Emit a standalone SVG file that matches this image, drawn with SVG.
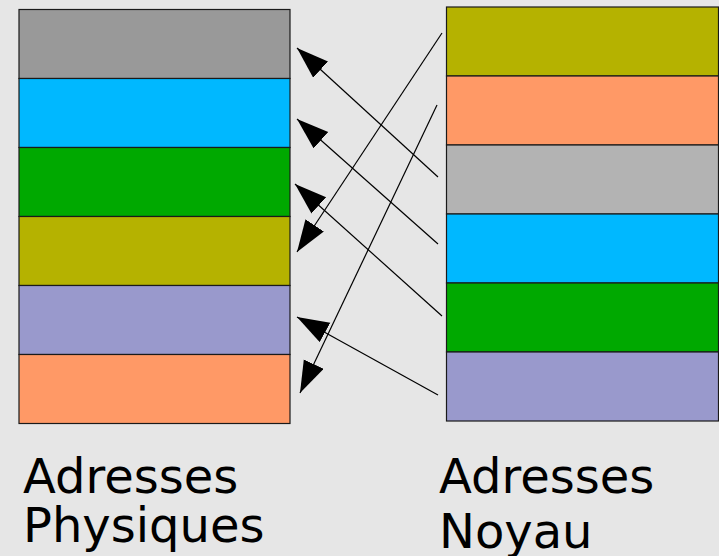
<svg xmlns="http://www.w3.org/2000/svg" width="719" height="556" viewBox="0 0 719 556">
  <style>
    .cell { stroke: #1a1a1a; stroke-width: 1.2; }
    .link { stroke: #000; stroke-width: 1.2; fill: none; marker-end: url(#head); }
    .label { font-family: "DejaVu Sans", sans-serif; font-size: 48px; fill: #000; }
  </style>
  <defs>
    <marker id="head" markerUnits="userSpaceOnUse" markerWidth="34" markerHeight="24" refX="32" refY="11" orient="auto">
      <path d="M0,0 L32,11 L0,22 Z" fill="#000"/>
    </marker>
  </defs>
  <rect width="719" height="556" fill="#e6e6e6"/>

  <g id="physique">
    <rect class="cell" x="19" y="9.5" width="271" height="69" fill="#999999"/>
    <rect class="cell" x="19" y="78.5" width="271" height="69" fill="#00b8ff"/>
    <rect class="cell" x="19" y="147.5" width="271" height="69" fill="#00a900"/>
    <rect class="cell" x="19" y="216.5" width="271" height="69" fill="#b5b200"/>
    <rect class="cell" x="19" y="285.5" width="271" height="69" fill="#9999cc"/>
    <rect class="cell" x="19" y="354.5" width="271" height="69" fill="#ff9966"/>
  </g>

  <g id="noyau">
    <rect class="cell" x="446.5" y="7" width="272" height="69" fill="#b5b200"/>
    <rect class="cell" x="446.5" y="76" width="272" height="69" fill="#ff9966"/>
    <rect class="cell" x="446.5" y="145" width="272" height="69" fill="#b3b3b3"/>
    <rect class="cell" x="446.5" y="214" width="272" height="69" fill="#00b8ff"/>
    <rect class="cell" x="446.5" y="283" width="272" height="69" fill="#00a900"/>
    <rect class="cell" x="446.5" y="352" width="272" height="69" fill="#9999cc"/>
  </g>

  <g id="connectors">
    <line class="link" x1="438" y1="177" x2="297" y2="48"/>
    <line class="link" x1="438" y1="244" x2="297" y2="119"/>
    <line class="link" x1="442" y1="316" x2="295" y2="184"/>
    <line class="link" x1="438" y1="395" x2="297" y2="317"/>
    <line class="link" x1="442" y1="33" x2="297" y2="252"/>
    <line class="link" x1="437" y1="105" x2="300" y2="393"/>
  </g>

  <g id="legende-physique">
    <text class="label" x="23" y="493">Adresses</text>
    <text class="label" x="23" y="542">Physiques</text>
  </g>
  <g id="legende-noyau">
    <text class="label" x="439" y="493">Adresses</text>
    <text class="label" x="439" y="548">Noyau</text>
  </g>
</svg>
